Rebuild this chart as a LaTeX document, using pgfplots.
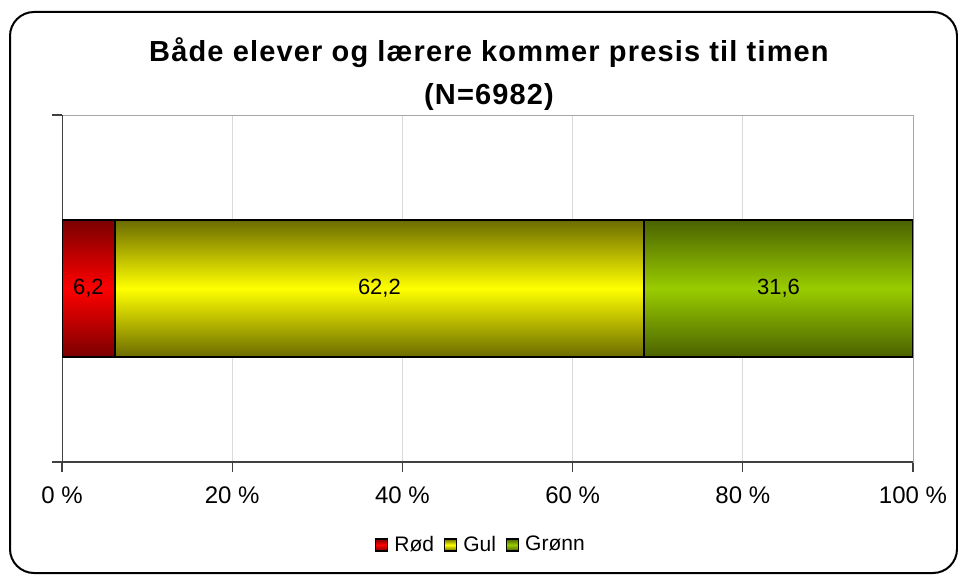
\documentclass[border=0pt]{standalone}
\usepackage{pgfplots}
\pgfplotsset{compat=1.18}
\usepackage{fontspec}
\setmainfont{Liberation Sans}
\newfontfamily\titlefont[LetterSpace=4]{Liberation Sans}

\definecolor{rodD}{HTML}{7A0000}
\definecolor{rodM}{HTML}{FF0000}
\definecolor{gulD}{HTML}{6B6B00}
\definecolor{gulM}{HTML}{FFFF00}
\definecolor{gronnD}{HTML}{4A6200}
\definecolor{gronnM}{HTML}{99CC00}

\begin{document}
\begin{tikzpicture}
\useasboundingbox (0,0) rectangle (479pt,287pt);
\draw[line width=1pt, rounded corners=12pt] (5pt,0.5pt) rectangle (478.5pt,281pt);
\node[font=\titlefont\fontsize{14.5}{21.5}\selectfont\bfseries, align=center] at (244.5pt,250pt)
  {Både elever og lærere kommer presis til timen\\(N=6982)};
\begin{axis}[
    at={(31pt,56pt)}, anchor=south west,
    scale only axis, width=425.5pt, height=173.5pt,
    xbar stacked, bar width=68.5pt,
    xmin=0, xmax=100, ymin=-1, ymax=1,
    xtick={0,20,...,100},
    xticklabel={\pgfmathprintnumber{\tick} \%},
    ytick={-1,1}, yticklabels={},
    xtick pos=bottom, ytick pos=left,
    tick align=outside, major tick length=5pt,
    xmajorgrids, grid style={draw=gray!30},
    axis line style={draw=gray!70},
    tick style={draw=black!75, line width=0.6pt},
    ticklabel style={font=\fontsize{12}{14}\selectfont},
    xticklabel style={yshift=-4pt},
    /pgf/number format/assume math mode=true,
    legend style={at={(0.4935,-0.239)}, anchor=center, draw=none,
        font=\fontsize{10.5}{12}\selectfont,
        /tikz/every odd column/.append style={column sep=1pt},
        /tikz/every even column/.append style={column sep=3pt}},
    legend columns=-1,
    legend image code/.code={\draw[#1, draw=black, line width=0.6pt] (0pt,-3pt) rectangle (6pt,3pt);},
]
\addplot[draw=black, line width=0.8pt, top color=rodD, bottom color=rodD, middle color=rodM] coordinates {(6.2,0)};
\addplot[draw=black, line width=0.8pt, top color=gulD, bottom color=gulD, middle color=gulM] coordinates {(62.2,0)};
\addplot[draw=black, line width=0.8pt, top color=gronnD, bottom color=gronnD, middle color=gronnM] coordinates {(31.6,0)};
\legend{Rød, Gul, Grønn}
\draw[black!75, line width=0.8pt] (rel axis cs:0,1) -- (rel axis cs:0,0) -- (rel axis cs:1,0);
\coordinate (l1) at (axis cs:3.1,0);
\coordinate (l2) at (axis cs:37.3,0);
\coordinate (l3) at (axis cs:84.2,0);
\end{axis}
\node[font=\fontsize{11}{12}\selectfont] at (l1) {6,2};
\node[font=\fontsize{11}{12}\selectfont] at (l2) {62,2};
\node[font=\fontsize{11}{12}\selectfont] at (l3) {31,6};
\end{tikzpicture}
\end{document}
